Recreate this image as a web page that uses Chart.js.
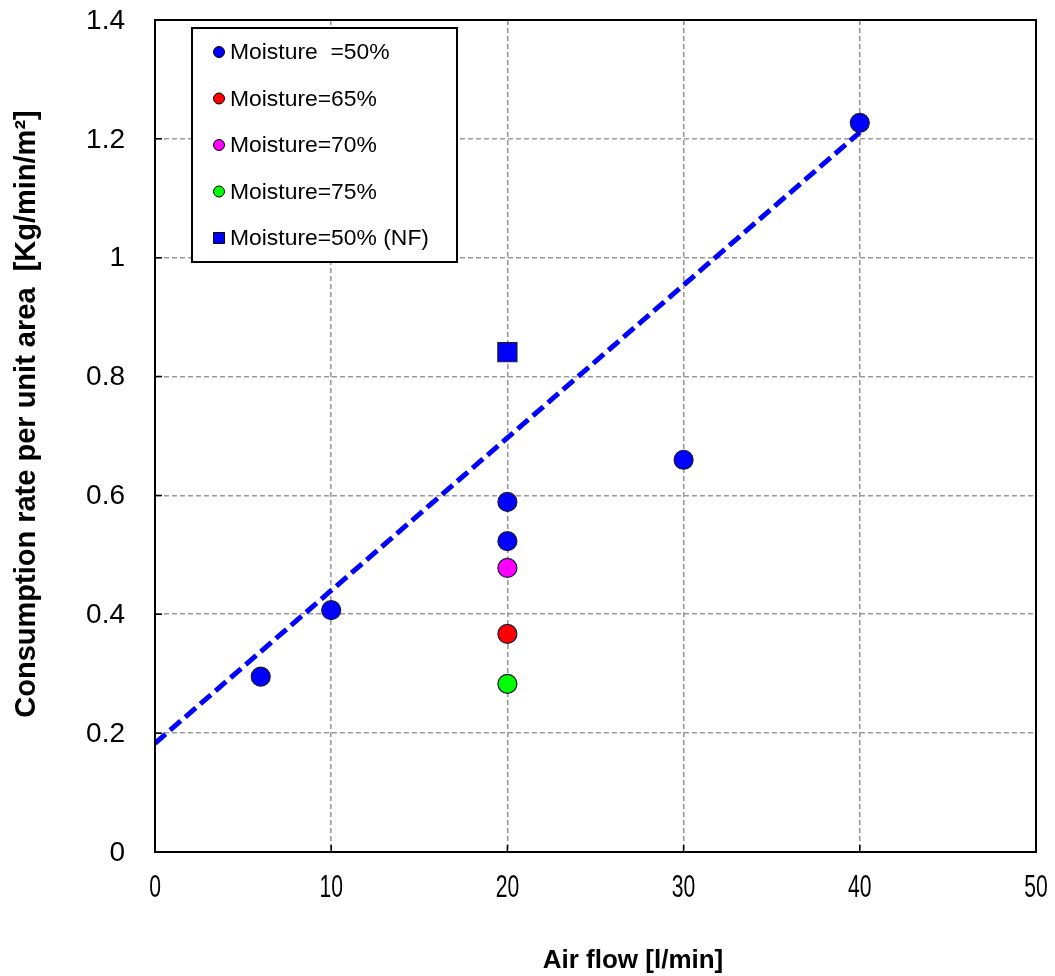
<!DOCTYPE html>
<html>
<head>
<meta charset="utf-8">
<script src="https://cdn.jsdelivr.net/npm/chart.js@4"></script>
<style>
  body { margin: 0; background: #fff; }
  #wrap { width: 1055px; height: 976px; }
</style>
</head>
<body>
<div id="wrap"><canvas id="chart" width="1055" height="976"></canvas></div>
<script>
// values
const xTicks = [0, 10, 20, 30, 40, 50];
const xTickLabels = ['0', '10', '20', '30', '40', '50'];
const yTicks = [0, 0.2, 0.4, 0.6, 0.8, 1, 1.2, 1.4];
const yTickLabels = ['0', '0.2', '0.4', '0.6', '0.8', '1', '1.2', '1.4'];

const xTitle = 'Air flow [l/min]';
const yTitle = 'Consumption rate per unit area  [Kg/min/m²]';
const seriesNames = ['Moisture  =50%', 'Moisture=65%', 'Moisture=70%', 'Moisture=75%', 'Moisture=50% (NF)'];

const m50X = [6, 10, 20, 20, 30, 40];
const m50Y = [0.295, 0.407, 0.589, 0.523, 0.660, 1.227];
const m65X = [20];
const m65Y = [0.367];
const m70X = [20];
const m70Y = [0.478];
const m75X = [20];
const m75Y = [0.283];
const nfX = [20];
const nfY = [0.841];

// trend line (blue dashed)
const trendX = [0, 40];
const trendY = [0.183, 1.211];

// wanted plot box
const AREA = { left: 155, top: 20, right: 1036, bottom: 852 };
const pad = { top: 20, right: 19, left: 0, bottom: 0 };

function pts(xs, ys) {
    return xs.map((x, i) => ({ x: x, y: ys[i] }));
}

const pointStyle = (label, xs, ys, color, shape) => ({
    label: label,
    data: pts(xs, ys),
    backgroundColor: color,
    borderColor: '#1a1a3a',
    borderWidth: 1.2,
    pointStyle: shape || 'circle',
    pointRadius: shape === 'rect' ? 13.5 : 9.5,
    showLine: false
});

const datasets = [
    pointStyle(seriesNames[0], m50X, m50Y, '#0000ff'),
    pointStyle(seriesNames[1], m65X, m65Y, '#ff0000'),
    pointStyle(seriesNames[2], m70X, m70Y, '#ff00ff'),
    pointStyle(seriesNames[3], m75X, m75Y, '#00ff00'),
    pointStyle(seriesNames[4], nfX, nfY, '#0000ff', 'rect'),
    {
        label: 'trend',
        data: pts(trendX, trendY),
        showLine: true,
        borderColor: '#0000ff',
        borderWidth: 5,
        borderDash: [14, 6],
        pointRadius: 0,
        fill: false
    }
];

// inward ticks, frame, tick labels, axis titles and the boxed legend
const framePlugin = {
    id: 'frame',
    afterDraw(chart) {
        const ctx = chart.ctx;
        const a = chart.chartArea;
        const xs = chart.scales.x, ys = chart.scales.y;
        ctx.save();
        ctx.strokeStyle = '#000';
        ctx.lineWidth = 2;
        ctx.setLineDash([]);
        ctx.strokeRect(a.left, a.top, a.right - a.left, a.bottom - a.top);
        ctx.lineWidth = 1.5;
        ctx.beginPath();
        yTicks.forEach(v => {
            const py = ys.getPixelForValue(v);
            ctx.moveTo(a.left, py);
            ctx.lineTo(a.left + 7, py);
        });
        xTicks.forEach(v => {
            const px = xs.getPixelForValue(v);
            ctx.moveTo(px, a.bottom);
            ctx.lineTo(px, a.bottom - 7);
        });
        ctx.stroke();

        ctx.fillStyle = '#000';
        // y tick labels
        ctx.font = '28px "Liberation Sans", Arial, sans-serif';
        ctx.textAlign = 'right';
        ctx.textBaseline = 'middle';
        yTicks.forEach((v, i) => {
            ctx.fillText(yTickLabels[i], a.left - 30, ys.getPixelForValue(v) + 1);
        });

        // x tick labels (condensed look)
        ctx.font = '32px "Liberation Sans", Arial, sans-serif';
        ctx.textAlign = 'center';
        xTicks.forEach((v, i) => {
            const px = xs.getPixelForValue(v);
            ctx.save();
            ctx.translate(px, a.bottom + 36);
            ctx.scale(0.66, 1);
            ctx.fillText(xTickLabels[i], 0, 0);
            ctx.restore();
        });

        // axis titles
        ctx.font = 'bold 26px "Liberation Sans", Arial, sans-serif';
        ctx.fillText(xTitle, 633, 961);
        ctx.save();
        ctx.translate(27, 414);
        ctx.rotate(-Math.PI / 2);
        ctx.font = 'bold 29px "Liberation Sans", Arial, sans-serif';
        ctx.fillText(yTitle, 0, 0);
        ctx.restore();

        // legend box
        const bx = a.left + 37, by = a.top + 8, bw = 265, bh = 234;
        ctx.fillStyle = '#fff';
        ctx.fillRect(bx, by, bw, bh);
        ctx.lineWidth = 2;
        ctx.strokeStyle = '#000';
        ctx.strokeRect(bx, by, bw, bh);
        ctx.font = '22px "Liberation Sans", Arial, sans-serif';
        ctx.textBaseline = 'middle';
        ctx.textAlign = 'left';
        for (let i = 0; i < 5; i++) {
            const ds = chart.data.datasets[i];
            const cy = by + 24 + i * 46.5;
            const cx = bx + 27;
            ctx.fillStyle = ds.backgroundColor;
            ctx.strokeStyle = '#000';
            ctx.lineWidth = 1;
            ctx.beginPath();
            if (ds.pointStyle === 'rect') {
                ctx.rect(cx - 5.5, cy - 5.5, 11, 11);
            } else {
                ctx.arc(cx, cy, 5.5, 0, Math.PI * 2);
            }
            ctx.fill();
            ctx.stroke();
            ctx.fillStyle = '#000';
            ctx.save();
            ctx.translate(cx + 11, cy + 1);
            ctx.scale(1.04, 1);
            ctx.fillText(ds.label, 0, 0);
            ctx.restore();
        }
        ctx.restore();
    }
};

const gridStyle = { color: '#9a9a9a', lineWidth: 1.6, drawTicks: false };
const borderStyle = { color: '#000', width: 2, dash: [5, 3] };

const chart = new Chart(document.getElementById('chart'), {
    type: 'scatter',
    data: { datasets: datasets },
    options: {
        responsive: false,
        animation: false,
        layout: { padding: pad },
        plugins: {
            legend: { display: false },
            tooltip: { enabled: false }
        },
        scales: {
            x: {
                type: 'linear',
                min: 0,
                max: 50,
                afterBuildTicks: s => { s.ticks = xTicks.map(v => ({ value: v })); },
                afterFit: s => { s.height = 124; },
                ticks: { display: false },
                grid: gridStyle,
                border: borderStyle,
                title: { display: false }
            },
            y: {
                type: 'linear',
                min: 0,
                max: 1.4,
                afterBuildTicks: s => { s.ticks = yTicks.map(v => ({ value: v })); },
                afterFit: s => { s.width = 155; },
                ticks: { display: false },
                grid: gridStyle,
                border: borderStyle,
                title: { display: false }
            }
        }
    },
    plugins: [framePlugin]
});

// nudge the layout padding until the plot box sits where the reference has it
for (let k = 0; k < 3; k++) {
    const a = chart.chartArea;
    pad.top += AREA.top - a.top;
    pad.right += a.right - AREA.right;
    pad.bottom += a.bottom - AREA.bottom;
    pad.left += AREA.left - a.left;
    chart.options.layout.padding = Object.assign({}, pad);
    chart.update();
}
</script>
</body>
</html>
